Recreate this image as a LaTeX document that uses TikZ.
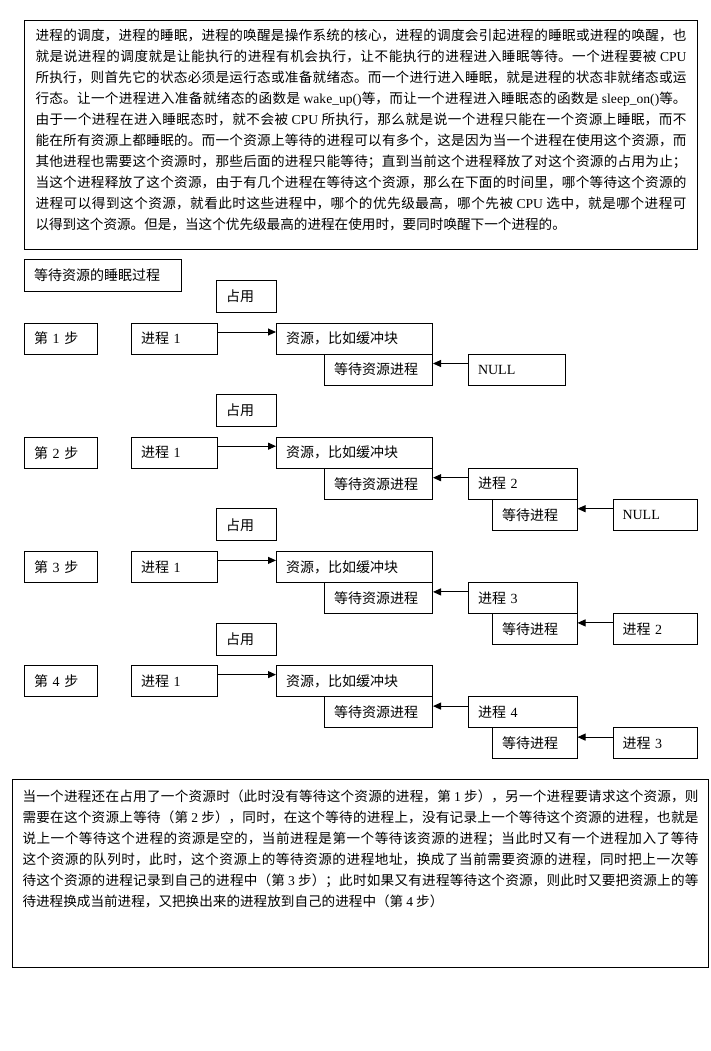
\documentclass[tikz,border=0pt]{standalone}
\usepackage{fontspec}
\setmainfont{Noto Sans CJK SC}
\newfontfamily\en{Liberation Serif}
\usetikzlibrary{arrows.meta}
\XeTeXlinebreaklocale "zh"
\XeTeXlinebreakskip=0pt plus 2pt
\tikzset{
  box/.style={draw, line width=1pt, anchor=north west, inner xsep=9.5pt, inner ysep=0pt, align=left, font=\fontsize{14}{17}\selectfont},
  frame/.style={draw, line width=1pt, anchor=north west},
  arr/.style={line width=1pt, -{Triangle[length=8pt,width=7pt]}},
}
\newcommand\bx[6]{%
  \pgfmathsetmacro\bxw{#4-(#2)-19}%
  \pgfmathsetmacro\bxh{#5-(#3)}%
  \node[box, text width=\bxw pt, minimum height=\bxh pt] (#1) at (#2,#3) {#6};}
\begin{document}
\begin{tikzpicture}[x=1pt,y=-1pt]
\fill[white] (0,0) rectangle (710,1051);
\useasboundingbox (0,0) rectangle (710,1051);

\node[frame, inner xsep=11pt, inner ysep=9pt] (intro) at (24,20) {\parbox[c][211pt][t]{651pt}{\fontsize{13.6}{20.9}\selectfont
进程的调度，进程的睡眠，进程的唤醒是操作系统的核心，进程的调度会引起进程的睡眠或进程的唤醒，也\linebreak
就是说进程的调度就是让能执行的进程有机会执行，让不能执行的进程进入睡眠等待。一个进程要被 {\en CPU}\linebreak
所执行，则首先它的状态必须是运行态或准备就绪态。而一个进行进入睡眠，就是进程的状态非就绪态或运\linebreak
行态。让一个进程进入准备就绪态的函数是 {\en wake\_up()}等，而让一个进程进入睡眠态的函数是 {\en sleep\_on()}等。\linebreak
由于一个进程在进入睡眠态时，就不会被 {\en CPU} 所执行，那么就是说一个进程只能在一个资源上睡眠，而不\linebreak
能在所有资源上都睡眠的。而一个资源上等待的进程可以有多个，这是因为当一个进程在使用这个资源，而\linebreak
其他进程也需要这个资源时，那些后面的进程只能等待；直到当前这个进程释放了对这个资源的占用为止；\linebreak
当这个进程释放了这个资源，由于有几个进程在等待这个资源，那么在下面的时间里，哪个等待这个资源的\linebreak
进程可以得到这个资源，就看此时这些进程中，哪个的优先级最高，哪个先被 {\en CPU} 选中，就是哪个进程可\linebreak
以得到这个资源。但是，当这个优先级最高的进程在使用时，要同时唤醒下一个进程的。}};

\bx{head}{24}{259}{181}{291}{等待资源的睡眠过程}

% step 1
\bx{Z1}{216}{280}{276}{312}{占用}
\bx{S1}{24}{322.5}{97}{353.5}{第 {\en 1} 步}
\bx{P1}{131}{322.5}{216.5}{353.5}{进程 {\en 1}}
\bx{R1}{276}{322.5}{432}{353.5}{资源，比如缓冲块}
\bx{W1}{324}{353.5}{432}{384.5}{等待资源进程}
\bx{N1}{468}{353.5}{564.5}{384.5}{{\en NULL}}
\draw[arr] ([yshift=-9.5pt]P1.north east) -- ([yshift=-9.5pt]R1.north west);
\draw[arr] ([yshift=-10pt]N1.north west) -- ([yshift=-10pt]W1.north east);

% steps 2-4
\foreach \k/\rt in {2/{\en NULL},3/进程 {\en 2},4/进程 {\en 3}} {
  \pgfmathsetmacro\dy{114.2*(\k-1)}
  \bx{Z\k}{216}{280+\dy}{276}{312+\dy}{占用}
  \bx{S\k}{24}{322.5+\dy}{97}{353.5+\dy}{第 {\en \k} 步}
  \bx{P\k}{131}{322.5+\dy}{216.5}{353.5+\dy}{进程 {\en 1}}
  \bx{R\k}{276}{322.5+\dy}{432}{353.5+\dy}{资源，比如缓冲块}
  \bx{W\k}{324}{353.5+\dy}{432}{384.5+\dy}{等待资源进程}
  \bx{Q\k}{468}{353.5+\dy}{576.5}{384.5+\dy}{进程 {\en \k}}
  \bx{D\k}{492}{384.5+\dy}{576.5}{415.5+\dy}{等待进程}
  \bx{X\k}{612.5}{384.5+\dy}{697}{415.5+\dy}{\rt}
  \draw[arr] ([yshift=-9.5pt]P\k.north east) -- ([yshift=-9.5pt]R\k.north west);
  \draw[arr] ([yshift=-10pt]Q\k.north west) -- ([yshift=-10pt]W\k.north east);
  \draw[arr] ([yshift=-10pt]X\k.north west) -- ([yshift=-10pt]D\k.north east);
}

\node[frame, inner xsep=10pt, inner ysep=10.5pt] (summary) at (12,779) {\parbox[c][167pt][t]{676pt}{\fontsize{13.6}{20.9}\selectfont
当一个进程还在占用了一个资源时（此时没有等待这个资源的进程，第 {\en 1} 步），另一个进程要请求这个资源，则\linebreak
需要在这个资源上等待（第 {\en 2} 步），同时，在这个等待的进程上，没有记录上一个等待这个资源的进程，也就是\linebreak
说上一个等待这个进程的资源是空的，当前进程是第一个等待该资源的进程；当此时又有一个进程加入了等待\linebreak
这个资源的队列时，此时，这个资源上的等待资源的进程地址，换成了当前需要资源的进程，同时把上一次等\linebreak
待这个资源的进程记录到自己的进程中（第 {\en 3} 步）；此时如果又有进程等待这个资源，则此时又要把资源上的等\linebreak
待进程换成当前进程，又把换出来的进程放到自己的进程中（第 {\en 4} 步）}};
\end{tikzpicture}
\end{document}
